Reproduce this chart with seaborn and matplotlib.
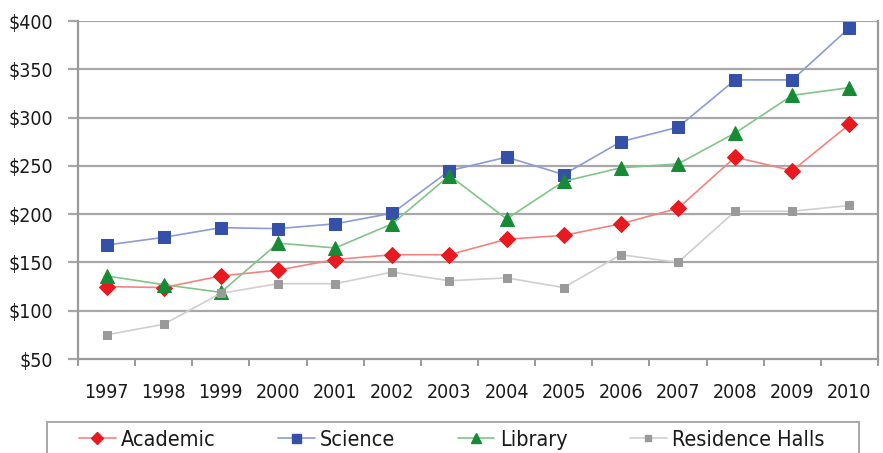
import matplotlib
matplotlib.use("Agg")
import matplotlib.pyplot as plt
import seaborn as sns
import pandas as pd
from matplotlib.lines import Line2D
from matplotlib.patches import Rectangle
from matplotlib.ticker import FixedLocator

years = ["1997", "1998", "1999", "2000", "2001", "2002", "2003",
         "2004", "2005", "2006", "2007", "2008", "2009", "2010"]
academic = [125, 124, 136, 142, 153, 158, 158, 174, 178, 190, 206, 259, 245, 293]
science = [168, 176, 186, 185, 190, 201, 245, 259, 241, 275, 290, 339, 339, 393]
library = [136, 127, 119, 170, 165, 190, 240, 195, 234, 248, 252, 284, 323, 331]
residence = [75, 86, 118, 128, 128, 140, 131, 134, 124, 158, 150, 203, 203, 209]
series_names = ["Academic", "Science", "Library", "Residence Halls"]
y_ticks = [50, 100, 150, 200, 250, 300, 350, 400]

sns.set_theme(style="white")
plt.rcParams["font.family"] = ["DejaVu Sans"]
plt.rcParams["font.stretch"] = "condensed"

df = pd.DataFrame({"year": years * 4,
                   "value": academic + science + library + residence,
                   "series": sum([[n] * len(years) for n in series_names], [])})

styles = {
    "Academic": dict(line="#f4837f", mk="#e8191f", marker="D", ms=8),
    "Science": dict(line="#8d9bd6", mk="#3550a8", marker="s", ms=9),
    "Library": dict(line="#82c48a", mk="#178a35", marker="^", ms=10),
    "Residence Halls": dict(line="#cfcfcf", mk="#9a9a9a", marker="s", ms=5.5),
}

fig = plt.figure(figsize=(8.83, 4.53), dpi=100)
ax = fig.add_axes([78 / 883, 1 - 359 / 453, 800 / 883, 338 / 453])

for name in series_names:
    st = styles[name]
    sub = df[df["series"] == name]
    sns.lineplot(data=sub, x="year", y="value", ax=ax, color=st["line"],
                 marker=st["marker"], markersize=st["ms"],
                 markerfacecolor=st["mk"], markeredgecolor=st["mk"],
                 linewidth=1.2, sort=False, legend=False)

ax.set_xlim(-0.5, len(years) - 0.5)
ax.set_ylim(50, 400)
ax.set_yticks(y_ticks)
ax.set_yticklabels([f"${v}" for v in y_ticks])
ax.set_xticks(range(len(years)))
ax.set_xticklabels(years)
ax.xaxis.set_minor_locator(FixedLocator([i - 0.5 for i in range(len(years) + 1)]))
ax.set_xlabel("")
ax.set_ylabel("")

gc = "#a8a8a8"
for v in y_ticks[1:]:
    ax.axhline(v, color=gc, linewidth=1.6, zorder=0)
for s in ["left", "bottom", "right"]:
    ax.spines[s].set_visible(True)
    ax.spines[s].set_color("#9a9a9a")
    ax.spines[s].set_linewidth(1.6)
ax.spines["top"].set_visible(False)

fs = 14
ax.tick_params(axis="y", which="major", direction="out", length=7, width=1.6,
               color="#a8a8a8", left=True, labelsize=fs, labelcolor="#1a1a1a", pad=11)
ax.tick_params(axis="x", which="major", length=0, labelsize=fs,
               labelcolor="#1a1a1a", pad=17)
ax.tick_params(axis="x", which="minor", direction="out", length=5, width=1.4,
               color="#9a9a9a", bottom=True)

# legend box
fig.patches.append(Rectangle((47 / 883, -0.05), 812 / 883, 0.05 + 1 - 422 / 453,
                             transform=fig.transFigure, fill=False,
                             edgecolor="#a8a8a8", linewidth=1.4))
handles = [Line2D([0], [0], color=styles[n]["line"], linewidth=1.2,
                  marker=styles[n]["marker"], markersize=styles[n]["ms"] * 0.72,
                  markerfacecolor=styles[n]["mk"], markeredgecolor=styles[n]["mk"])
           for n in series_names]
lfs = 15.5
leg = fig.legend(handles, series_names, loc="center left", ncol=4,
                 bbox_to_anchor=(79 / 883, 1 - 440 / 453),
                 fontsize=lfs, frameon=False, handlelength=1.7,
                 handletextpad=0.25, borderpad=0, borderaxespad=0,
                 columnspacing=2.9)
for t in leg.get_texts():
    t.set_color("#1a1a1a")

fig.savefig("out.png", dpi=100)
